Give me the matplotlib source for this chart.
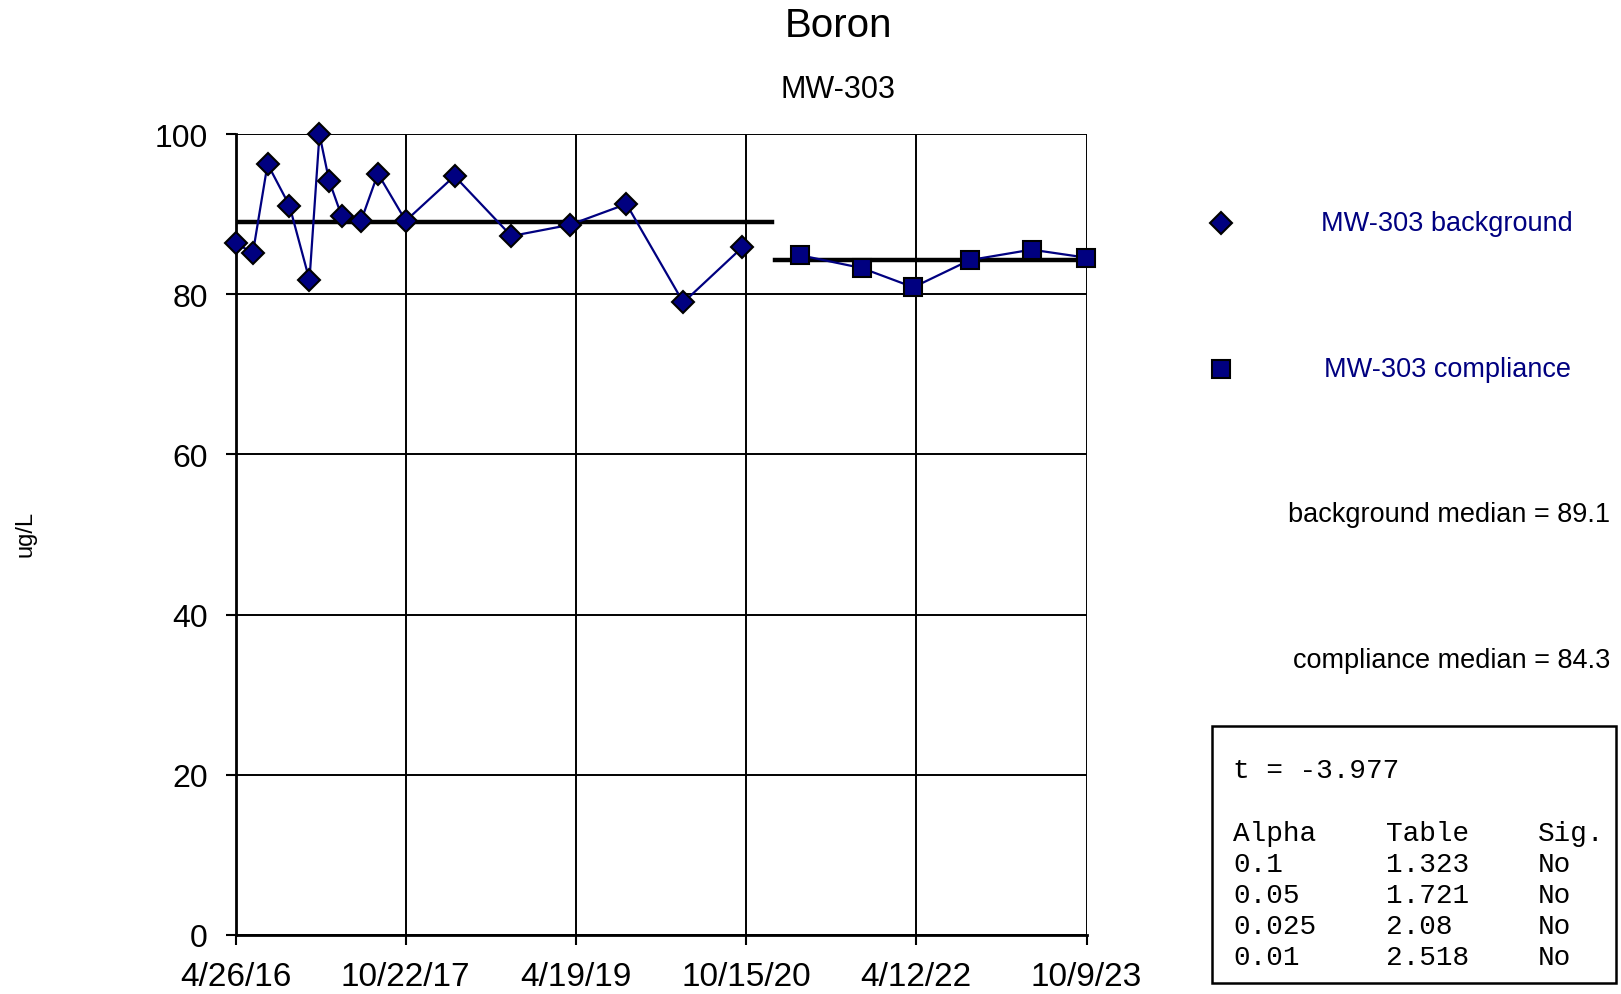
import datetime as dt
import matplotlib
matplotlib.use("Agg")
import matplotlib.pyplot as plt
import matplotlib.dates as mdates

plt.rcParams['font.family'] = ['Liberation Sans', 'DejaVu Sans']

NAVY = '#000080'

bg_dates = ['2016-04-26', '2016-06-20', '2016-08-06', '2016-10-15', '2016-12-18',
            '2017-01-19', '2017-02-19', '2017-03-31', '2017-06-01', '2017-07-25',
            '2017-10-22', '2018-03-27', '2018-09-25', '2019-03-31', '2019-09-28',
            '2020-03-28', '2020-10-03']
bg_vals = [86.4, 85.2, 96.3, 91.1, 81.8, 100.0, 94.2, 89.8, 89.2, 95.1,
           89.2, 94.8, 87.3, 88.7, 91.3, 79.0, 85.9]

cp_dates = ['2021-04-06', '2021-10-20', '2022-04-03', '2022-10-01', '2023-04-16', '2023-10-08']
cp_vals = [84.9, 83.3, 80.9, 84.3, 85.6, 84.6]

bg_median = 89.1
cp_median = 84.3
bg_median_span = ['2016-04-26', '2021-01-07']
cp_median_span = ['2021-01-14', '2023-10-09']

tick_dates = ['2016-04-26', '2017-10-22', '2019-04-19', '2020-10-15', '2022-04-12', '2023-10-09']
tick_labels = ['4/26/16', '10/22/17', '4/19/19', '10/15/20', '4/12/22', '10/9/23']

t_stat = '-3.977'
alphas = ['0.1', '0.05', '0.025', '0.01']
table_vals = ['1.323', '1.721', '2.08', '2.518']
sig = ['No', 'No', 'No', 'No']


def d(s):
    return dt.datetime.strptime(s, '%Y-%m-%d')


fig = plt.figure(figsize=(16.21, 9.95), dpi=100)
ax = fig.add_axes([0.1454, 0.0597, 0.5249, 0.8042])

ax.plot([d(s) for s in bg_dates], bg_vals, color=NAVY, lw=1.6, marker='D',
        ms=11, mfc=NAVY, mec='black', mew=1.5, clip_on=False, zorder=4)
ax.plot([d(s) for s in cp_dates], cp_vals, color=NAVY, lw=1.6, marker='s',
        ms=13.5, mfc=NAVY, mec='black', mew=1.5, clip_on=False, zorder=4)
ax.plot([d(s) for s in bg_median_span], [bg_median] * 2, color='black', lw=3.2, zorder=3)
ax.plot([d(s) for s in cp_median_span], [cp_median] * 2, color='black', lw=3.2,
        zorder=3, clip_on=False)

ax.set_xlim(d(tick_dates[0]), d(tick_dates[-1]))
ax.set_ylim(0, 100)
ax.set_xticks([mdates.date2num(d(s)) for s in tick_dates])
ax.set_xticklabels(tick_labels, fontsize=24)
ax.set_yticks([0, 20, 40, 60, 80, 100])
ax.set_yticklabels(['0', '20', '40', '60', '80', '100'], fontsize=23)
ax.tick_params(length=7, width=1.5, color='black')
ax.tick_params(axis='x', pad=12)
ax.tick_params(axis='y', pad=13)
ax.grid(True, color='black', lw=1.4)
for side in ['top', 'right']:
    ax.spines[side].set_visible(False)
for side in ['left', 'bottom']:
    ax.spines[side].set_linewidth(2)

fig.text(0.517, 0.974, 'Boron', ha='center', va='center', fontsize=29)
fig.text(0.517, 0.9096, 'MW-303', ha='center', va='center', fontsize=22)
fig.text(0.0155, 0.463, 'ug/L', rotation=90, ha='center', va='center', fontsize=17)

# legend
fig.lines.append(plt.Line2D([1221 / 1621], [1 - 224 / 995], transform=fig.transFigure,
                            marker='D', ms=11, mfc=NAVY, mec='black', mew=1.5, ls='none'))
fig.lines.append(plt.Line2D([1221 / 1621], [1 - 370 / 995], transform=fig.transFigure,
                            marker='s', ms=13.5, mfc=NAVY, mec='black', mew=1.5, ls='none'))
fig.text(1447 / 1621, 1 - 224 / 995, 'MW-303 background', color=NAVY,
         ha='center', va='center', fontsize=19.5)
fig.text(1447 / 1621, 1 - 370 / 995, 'MW-303 compliance', color=NAVY,
         ha='center', va='center', fontsize=19.5)
fig.text(1610 / 1621, 1 - 515 / 995, 'background median = %s' % bg_median,
         ha='right', va='center', fontsize=19.5)
fig.text(1610 / 1621, 1 - 661 / 995, 'compliance median = %s' % cp_median,
         ha='right', va='center', fontsize=19.5)

# stats box
box = plt.Rectangle((1211.6 / 1621, 1 - 984.2 / 995), (1615.8 - 1211.6) / 1621,
                    (984.2 - 726.8) / 995, transform=fig.transFigure,
                    fill=False, ec='black', lw=1.8)
fig.patches.append(box)
mono = dict(family='Liberation Mono', fontsize=20, va='center', ha='left')
fig.text(1233 / 1621, 1 - 771 / 995, 't = ' + t_stat, **mono)
cols = [1233, 1386, 1538]
fig.text(cols[0] / 1621, 1 - 834 / 995, 'Alpha', **mono)
fig.text(cols[1] / 1621, 1 - 834 / 995, 'Table', **mono)
fig.text(cols[2] / 1621, 1 - 834 / 995, 'Sig.', **mono)
for i in range(len(alphas)):
    y = 1 - (865 + 31 * i) / 995
    fig.text(cols[0] / 1621, y, alphas[i], **mono)
    fig.text(cols[1] / 1621, y, table_vals[i], **mono)
    fig.text(cols[2] / 1621, y, sig[i], **mono)

fig.savefig('out.png', dpi=100)
